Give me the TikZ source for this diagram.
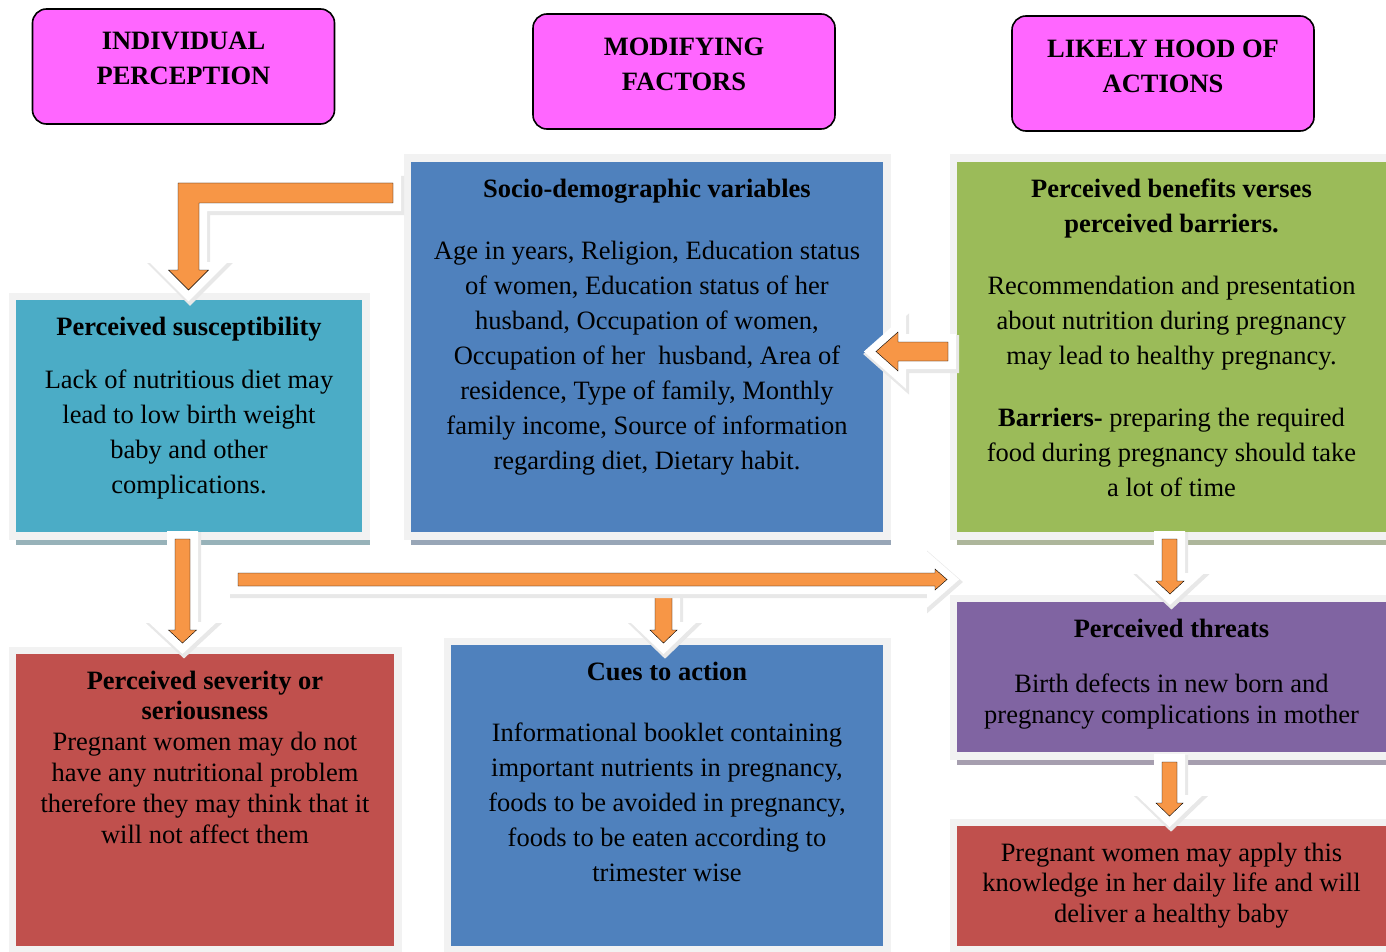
\documentclass[tikz,border=0pt]{standalone}
\usepackage{fontspec}
\setmainfont{Liberation Serif}
\usetikzlibrary{positioning,shadows}

\definecolor{headpink}{HTML}{FF66FF}
\definecolor{socioblue}{HTML}{4F81BD}
\definecolor{benefitgreen}{HTML}{9BBB59}
\definecolor{suscyan}{HTML}{4BACC6}
\definecolor{severred}{HTML}{C0504D}
\definecolor{threatpurple}{HTML}{8064A2}
\definecolor{arroworange}{HTML}{F79646}
\definecolor{framegray}{HTML}{F2F2F2}

\tikzset{
  header/.style={draw=black, line width=1.6pt, fill=headpink, rounded corners=14pt,
    minimum width=302pt, minimum height=115pt, inner sep=0pt},
  headtext/.style={font=\fontsize{26.5}{35}\selectfont\bfseries, align=center, inner sep=0pt},
  panel/.style={fill=#1, draw=framegray, line width=7.5pt, inner sep=0pt,
    drop shadow={shadow xshift=4pt, shadow yshift=-9pt, opacity=1, fill=#1!40!gray!70!white}},
  paneltext/.style={font=\fontsize{26.5}{35}\selectfont, align=center, inner sep=0pt},
  tighttext/.style={paneltext, font=\fontsize{26.5}{30.8}\selectfont},
  blockarrow/.style={fill=arroworange, line join=miter,
    preaction={draw=black!9, line width=19pt, transform canvas={shift={(1.5pt,-2.5pt)}}},
    preaction={draw=white, line width=16pt}}
}

\begin{document}
\begin{tikzpicture}[x=1pt, y=-1pt]
    \useasboundingbox (0,0) rectangle (1386,952);
    \clip (0,0) rectangle (1386,952);

    %% Column headers
    \node[header] (indiv) at (183.5,66.5) {};
    \node[headtext, below=24pt of indiv.north] (indivtext) {INDIVIDUAL\\PERCEPTION};
    \node[header] (modif) at (684,71.5) {};
    \node[headtext, below=24.5pt of modif.north] (modiftext) {MODIFYING\\FACTORS};
    \node[header] (likely) at (1163,73.5) {};
    \node[headtext, below=24.5pt of likely.north] (likelytext) {LIKELY HOOD OF\\ACTIONS};

    %% Panels
    % Perceived susceptibility
    \node[panel=suscyan, minimum width=353.5pt, minimum height=239.5pt] (susc) at (189,416) {};
    \node[paneltext, below=24pt of susc.north] (susctext)
        {\textbf{Perceived susceptibility}\\[18pt]
         Lack of nutritious diet may\\lead to low birth weight\\baby and other\\complications.};

    % Socio-demographic variables
    \node[panel=socioblue, minimum width=479.5pt, minimum height=377.5pt] (socio) at (647,347) {};
    \node[paneltext, below=24pt of socio.north] (sociotext)
        {\textbf{Socio-demographic variables}\\[27pt]
         Age in years, Religion, Education status\\of women, Education status of her\\
         husband, Occupation of women,\\Occupation of her~ husband, Area of\\
         residence, Type of family, Monthly\\family income, Source of information\\
         regarding diet, Dietary habit.};

    % Benefits and barriers
    \node[panel=benefitgreen, minimum width=436.5pt, minimum height=377.5pt] (benefit) at (1171.5,347) {};
    \node[paneltext, below=24pt of benefit.north] (benefittext)
        {\textbf{Perceived benefits verses}\\\textbf{perceived barriers.}\\[27pt]
         Recommendation and presentation\\about nutrition during pregnancy\\
         may lead to healthy pregnancy.\\[27pt]
         \textbf{Barriers-} preparing the required\\food during pregnancy should take\\a lot of time};

    % Perceived severity
    \node[panel=severred, minimum width=385.5pt, minimum height=299.5pt] (sever) at (205,800) {};
    \node[tighttext, below=24pt of sever.north] (severtext)
        {\textbf{Perceived severity or}\\\textbf{seriousness}\\
         Pregnant women may do not\\have any nutritional problem\\
         therefore they may think that it\\will not affect them};

    % Cues to action
    \node[panel=socioblue, minimum width=439.5pt, minimum height=308.5pt] (cues) at (667,795.5) {};
    \node[paneltext, below=24pt of cues.north] (cuestext)
        {\textbf{Cues to action}\\[26pt]
         Informational booklet containing\\important nutrients in pregnancy,\\
         foods to be avoided in pregnancy,\\foods to be eaten according to\\trimester wise};

    % Perceived threats
    \node[panel=threatpurple, minimum width=436.5pt, minimum height=157.5pt] (threat) at (1171.5,677) {};
    \node[tighttext, below=24pt of threat.north] (threattext)
        {\textbf{Perceived threats}\\[25pt]
         Birth defects in new born and\\pregnancy complications in mother};

    % Likely action
    \node[panel=severred, minimum width=436.5pt, minimum height=127.5pt] (apply) at (1171.5,886) {};
    \node[tighttext, below=24pt of apply.north] (applytext)
        {Pregnant women may apply this\\knowledge in her daily life and will\\deliver a healthy baby};

    %% Block arrows
    % Modifying factors to susceptibility
    \draw[blockarrow] (393,183) -- (178,183) -- (178,270) -- (168.5,270) -- (188.5,290)
        -- (208.5,270) -- (199,270) -- (199,203) -- (393,203) -- cycle;
    % Benefits to modifying factors
    \draw[blockarrow] (948,342) -- (898,342) -- (898,332) -- (876,351.5) -- (898,371)
        -- (898,361) -- (948,361) -- cycle;
    % Susceptibility to severity
    \draw[blockarrow] (175,539) -- (175,630) -- (168.5,630) -- (182.5,643) -- (196.5,630)
        -- (190,630) -- (190,539) -- cycle;
    % Down to cues
    \draw[blockarrow] (655,594) -- (655,630) -- (650,630) -- (663.5,643) -- (677,630)
        -- (672,630) -- (672,594) -- cycle;
    % Long arrow to threats
    \draw[blockarrow] (238,573) -- (935,573) -- (935,569) -- (947,579.5) -- (935,590)
        -- (935,586) -- (238,586) -- cycle;
    % Benefits to threats
    \draw[blockarrow] (1162,539) -- (1162,581) -- (1156,581) -- (1170,594) -- (1184,581)
        -- (1177,581) -- (1177,539) -- cycle;
    % Threats to action
    \draw[blockarrow] (1162,762) -- (1162,803) -- (1156,803) -- (1169.5,816) -- (1183,803)
        -- (1177,803) -- (1177,762) -- cycle;

\end{tikzpicture}
\end{document}
